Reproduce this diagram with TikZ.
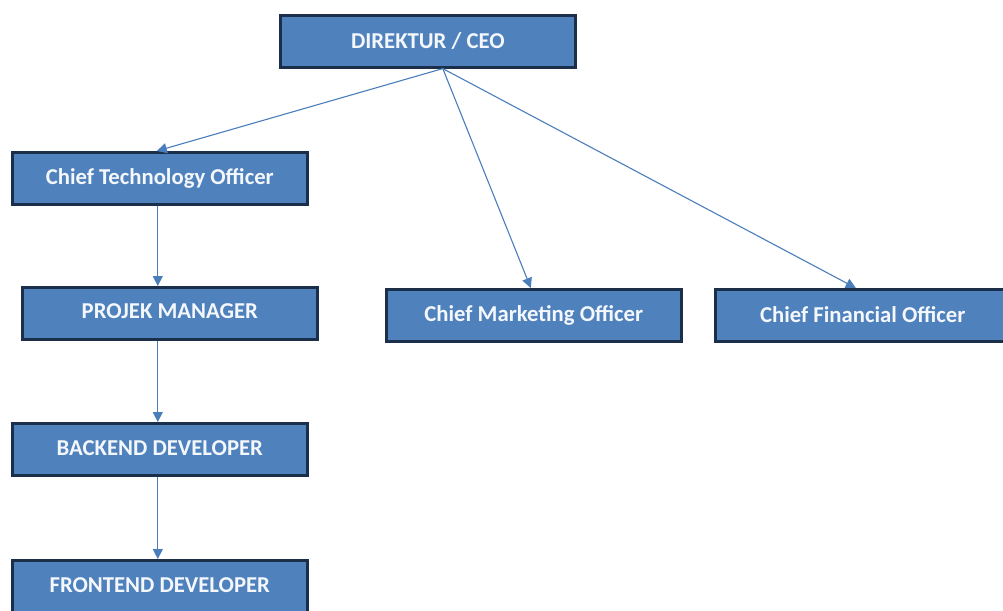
\documentclass[tikz,border=0pt]{standalone}
\usepackage{fontspec}
\setmainfont{Carlito}
\usetikzlibrary{arrows.meta}
\definecolor{boxfill}{HTML}{4F81BD}
\definecolor{boxline}{HTML}{1B2F4B}
\definecolor{arrowc}{HTML}{4A7EBB}
\definecolor{txt}{HTML}{F4F7FB}
\tikzset{
  orgbox/.style={draw=boxline, line width=2.6pt, fill=boxfill, text=txt,
    font=\fontsize{22.7}{26}\selectfont\bfseries, minimum width=295pt, minimum height=52pt,
    inner sep=0pt, anchor=north west},
  link/.style={draw=arrowc, line width=1.1pt, -{Triangle[width=10pt,length=10pt]}}
}
\begin{document}
\begin{tikzpicture}[x=1pt,y=-1pt]
\useasboundingbox (0,0) rectangle (1003,610);
\clip (0,0) rectangle (1003,610);
\node[orgbox] (ceo) at (279,14) {\raisebox{2pt}{DIREKTUR / CEO}};
\node[orgbox] (cto) at (11,151) {\raisebox{2pt}{Chief Technology Officer}};
\node[orgbox] (pm) at (21,286) {\raisebox{4pt}{PROJEK MANAGER}};
\node[orgbox] (cmo) at (385,288) {\raisebox{2pt}{Chief Marketing Officer}};
\node[orgbox] (cfo) at (714,288) {\raisebox{2pt}{Chief Financial Officer}};
\node[orgbox] (be) at (11,422) {\raisebox{2pt}{BACKEND DEVELOPER}};
\node[orgbox] (fe) at (11,559) {\raisebox{2pt}{FRONTEND DEVELOPER}};
\coordinate (ceoout) at ([xshift=15pt]ceo.south);
\draw[link] (ceoout) -- ([xshift=-3pt]cto.north);
\draw[link] (ceoout) -- ([xshift=-3pt]cmo.north);
\draw[link] (ceoout) -- ([xshift=-7pt]cfo.north);
\draw[link] ([xshift=-2pt]cto.south) -- ([xshift=-2pt]cto.south |- pm.north);
\draw[link] ([xshift=-2pt]cto.south |- pm.south) -- ([xshift=-2pt]be.north);
\draw[link] ([xshift=-2pt]be.south) -- ([xshift=-2pt]fe.north);
\end{tikzpicture}
\end{document}
